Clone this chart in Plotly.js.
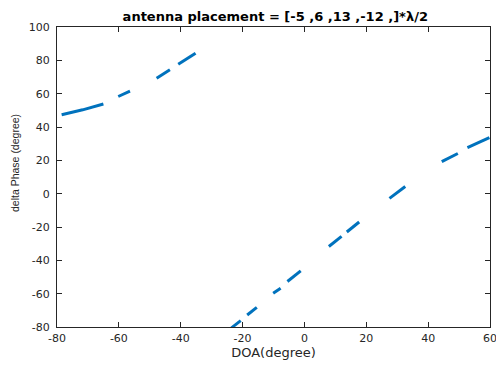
<!DOCTYPE html>
<html>
<head>
<meta charset="utf-8">
<script src="https://cdn.plot.ly/plotly-3.0.1.min.js"></script>
<style>html,body{margin:0;padding:0;background:#fff;}#chart{width:496px;height:366px;}</style>
</head>
<body>
<div id="chart"></div>
<script>
// Visible segments of delta phase vs DOA (null separates segments)
const doa = [
  -78.5, -71.7, -65.0, null,
  -60.2, -56.4, null,
  -47.8, -43.5, null,
  -40.8, -35.2, null,
  -23.6, -20.6, null,
  -18.5, -15.4, null,
  -10.1, -7.7, null,
  -5.5, -1.2, null,
  7.9, 12.0, null,
  13.7, 17.7, null,
  27.5, 32.6, null,
  44.4, 49.6, null,
  52.7, 59.8
];
const deltaPhase = [
  47.4, 50.3, 53.8, null,
  58.3, 61.5, null,
  69.3, 74.3, null,
  77.7, 84.3, null,
  -80.5, -76.2, null,
  -72.8, -68.2, null,
  -59.7, -56.7, null,
  -52.7, -46.3, null,
  -31.7, -25.6, null,
  -23.0, -17.0, null,
  -2.8, 4.3, null,
  19.2, 24.1, null,
  27.6, 33.6
];
const xTicks = [-80, -60, -40, -20, 0, 20, 40, 60];
const yTicks = [-80, -60, -40, -20, 0, 20, 40, 60, 80, 100];

const FONT = 'DejaVu Sans, Arial, sans-serif';
const axisCommon = {
  showgrid: false, zeroline: false, showline: true, linecolor: '#262626', linewidth: 1,
  mirror: 'ticks', ticks: 'inside', ticklen: 5, tickcolor: '#262626',
  ticklabeloverflow: 'allow',
  tickfont: {family: FONT, size: 11, color: '#262626'}
};
Plotly.newPlot('chart', [{
  x: doa, y: deltaPhase, type: 'scatter', mode: 'lines', connectgaps: false,
  line: {color: '#0072BD', width: 3}, hoverinfo: 'none'
}], {
  width: 496, height: 366,
  margin: {l: 57, r: 6, t: 27, b: 39},
  paper_bgcolor: '#fff', plot_bgcolor: '#fff',
  showlegend: false,
  title: {text: '<b>antenna placement = [-5 ,6 ,13 ,-12 ,]*λ/2</b>', x: 0.555, xanchor: 'center', y: 1 - 16.5/366, yanchor: 'middle',
    font: {family: FONT, size: 13, color: '#000'}},
  xaxis: Object.assign({}, axisCommon, {range: [-80, 60], tickvals: xTicks, ticktext: xTicks.map(String),
    ticklabelstandoff: 1,
    title: {text: 'DOA(degree)', standoff: 3, font: {family: FONT, size: 13, color: '#262626'}}}),
  yaxis: Object.assign({}, axisCommon, {range: [-80, 100], tickvals: yTicks, ticktext: yTicks.map(String),
    ticklabelstandoff: 4}),
  annotations: [{
    text: 'delta Phase (degree)', textangle: -90, xref: 'paper', yref: 'paper',
    x: -(57 - 15) / 433, y: (327 - 163) / 300, xanchor: 'center', yanchor: 'middle', showarrow: false,
    font: {family: 'Liberation Sans, Arial, sans-serif', size: 10.5, color: '#262626'}
  }]
}, {staticPlot: true});
</script>
</body>
</html>
